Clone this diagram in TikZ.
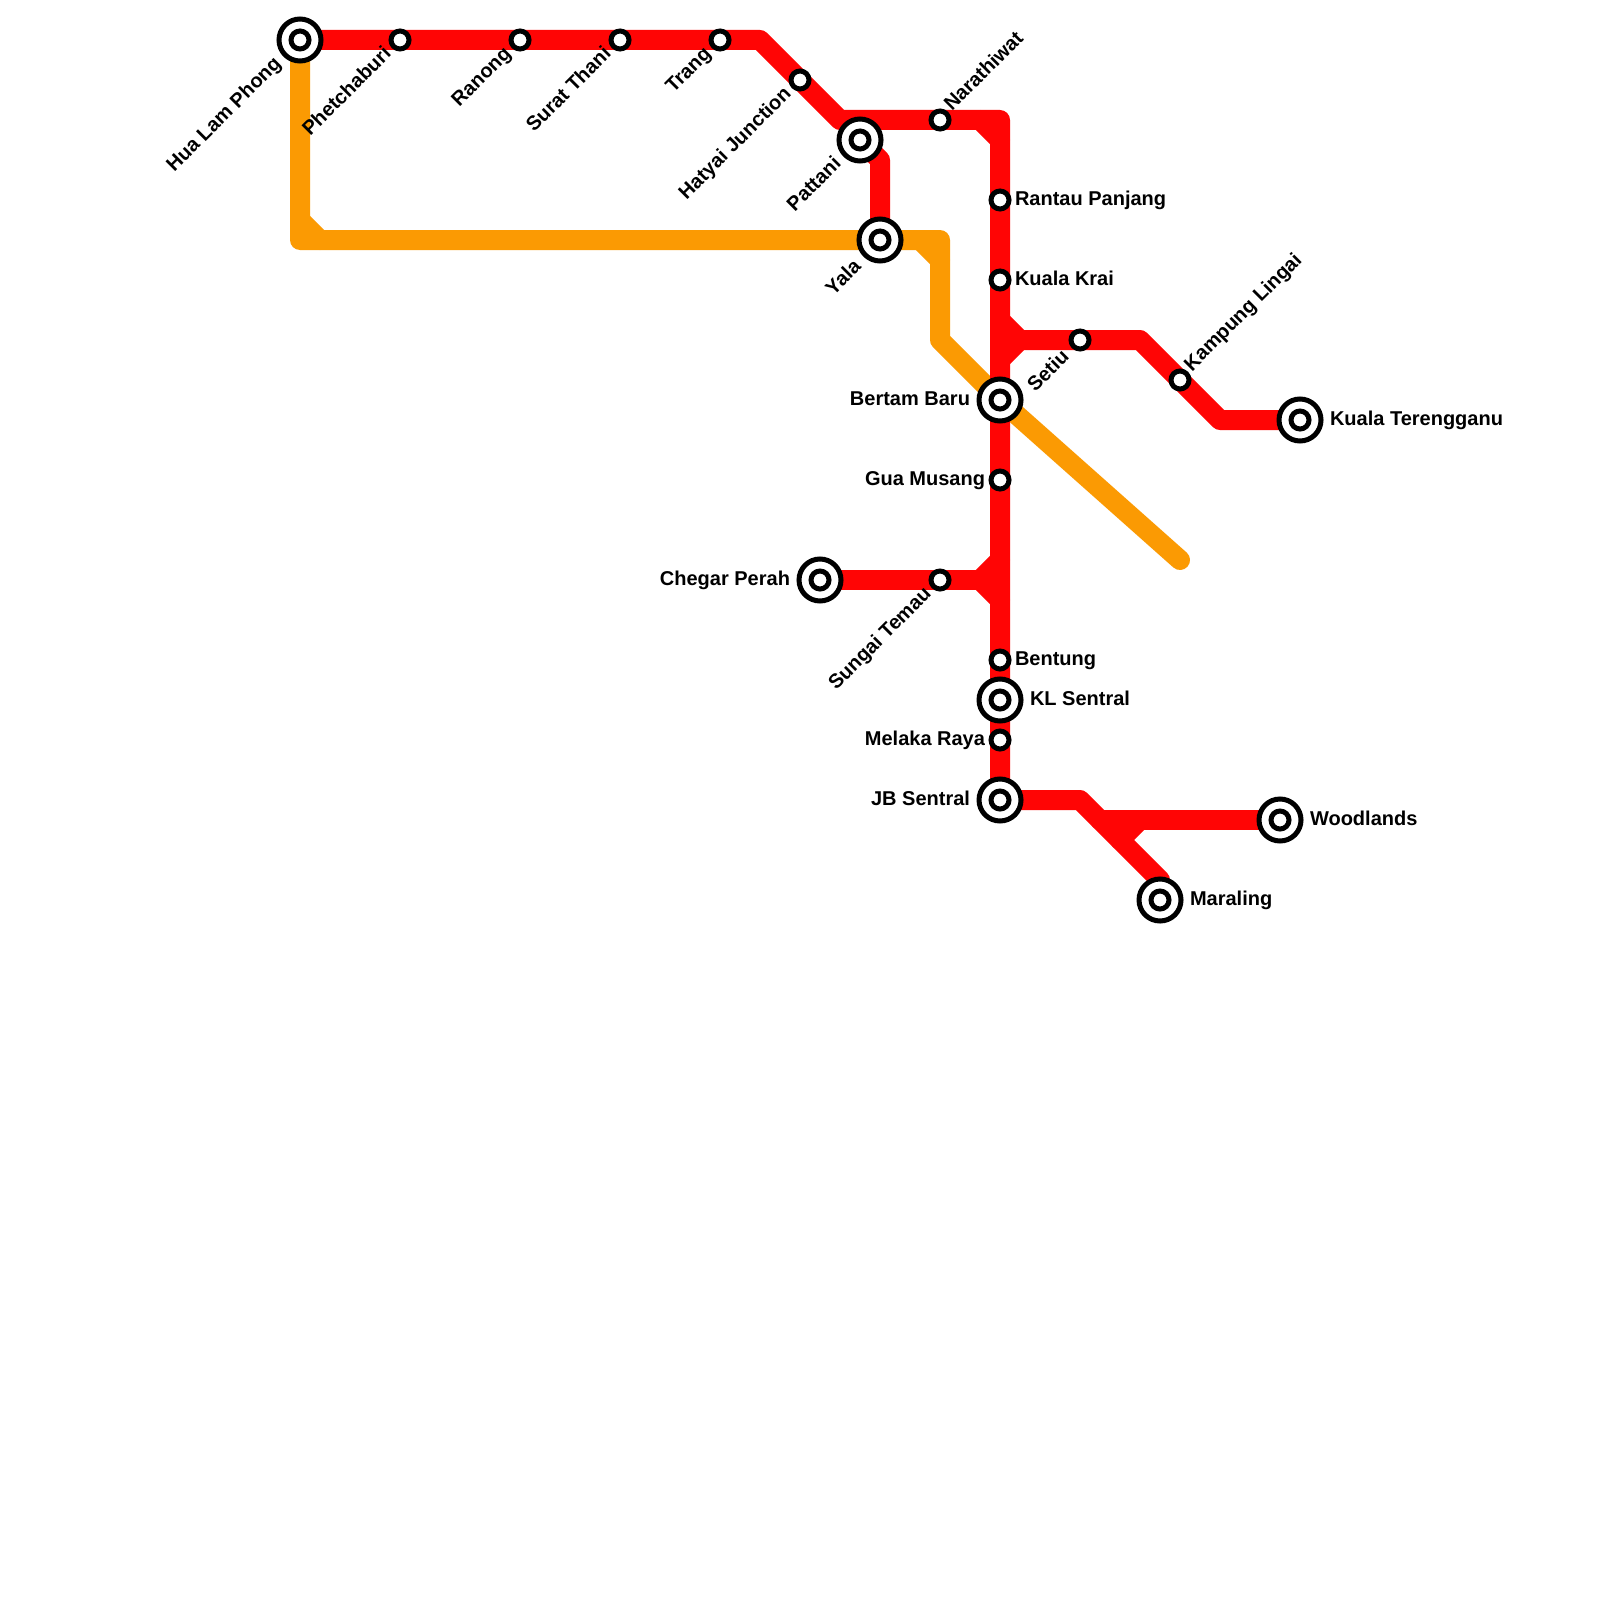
\documentclass[tikz,border=0pt]{standalone}
\usepackage{fontspec}
\setmainfont{Liberation Sans}
\usetikzlibrary{backgrounds}
\definecolor{linered}{HTML}{FF0505}
\definecolor{lineorange}{HTML}{FB9A03}
\tikzset{
  railline/.style={line width=20pt,line cap=round,line join=round},
  redline/.style={railline,draw=linered},
  orangeline/.style={railline,draw=lineorange},
  smallstn/.style={circle,draw=black,fill=white,line width=5pt,minimum size=18pt,inner sep=0pt},
  hubring/.style={circle,draw=black,fill=white,line width=5pt,minimum size=42pt,inner sep=0pt},
  stnlabel/.style={inner sep=0pt,outer sep=0pt,font=\fontsize{20}{24}\selectfont\bfseries,text=black},
  lblR/.style={stnlabel,anchor=base west},
  lblL/.style={stnlabel,anchor=base east},
  lblUR/.style={stnlabel,anchor=base west,rotate=45},
  lblDL/.style={stnlabel,anchor=base east,rotate=45}
}
\newcommand{\stnS}[3]{\node[smallstn] (#1) at (#2,#3) {};}
\newcommand{\stnH}[3]{\node[hubring] (#1) at (#2,#3) {}; \node[smallstn] (#1core) at (#2,#3) {};}
\begin{document}
\begin{tikzpicture}[x=1pt,y=-1pt]
\useasboundingbox (0,0) rectangle (1600,1600);
% stations
\stnH{hualam}{300}{40}
\stnS{phet}{400}{40}
\stnS{ranong}{520}{40}
\stnS{surat}{620}{40}
\stnS{trang}{720}{40}
\stnS{hatyai}{800}{80}
\stnH{pattani}{860}{140}
\stnS{nara}{940}{120}
\stnH{yala}{880}{240}
\stnS{rantau}{1000}{200}
\stnS{krai}{1000}{280}
\stnS{setiu}{1080}{340}
\stnS{lingai}{1180}{380}
\stnH{kterengganu}{1300}{420}
\stnH{bertam}{1000}{400}
\stnS{musang}{1000}{480}
\stnH{chegar}{820}{580}
\stnS{temau}{940}{580}
\stnS{bentung}{1000}{660}
\stnH{kl}{1000}{700}
\stnS{melaka}{1000}{740}
\stnH{jb}{1000}{800}
\stnH{woodlands}{1280}{820}
\stnH{maraling}{1160}{900}
% labels
\node[lblDL] (lhualam) at (282,65) {Hua Lam Phong};
\node[lblDL] (lphet) at (392,55) {Phetchaburi};
\node[lblDL] (lranong) at (512,55) {Ranong};
\node[lblDL] (lsurat) at (612,55) {Surat Thani};
\node[lblDL] (ltrang) at (712,55) {Trang};
\node[lblDL] (lhatyai) at (792,95) {Hatyai Junction};
\node[lblDL] (lpattani) at (842,165) {Pattani};
\node[lblDL] (lyala) at (862,268) {Yala};
\node[lblDL] (lsetiu) at (1070,358) {Setiu};
\node[lblDL] (ltemau) at (932,595) {Sungai Temau};
\node[lblUR] (lnara) at (952,112) {Narathiwat};
\node[lblUR] (llingai) at (1192,372) {Kampung Lingai};
\node[lblR] (lrantau) at (1015,205) {Rantau Panjang};
\node[lblR] (lkrai) at (1015,285) {Kuala Krai};
\node[lblR] (lkt) at (1330,425) {Kuala Terengganu};
\node[lblR] (lbentung) at (1015,665) {Bentung};
\node[lblR] (lkl) at (1030,705) {KL Sentral};
\node[lblR] (lwood) at (1310,825) {Woodlands};
\node[lblR] (lmaraling) at (1190,905) {Maraling};
\node[lblL] (lbertam) at (970,405) {Bertam Baru};
\node[lblL] (lmusang) at (985,485) {Gua Musang};
\node[lblL] (lchegar) at (790,585) {Chegar Perah};
\node[lblL] (lmelaka) at (985,745) {Melaka Raya};
\node[lblL] (ljb) at (970,805) {JB Sentral};
% bends and fillet ends
\coordinate (b1) at (760,40);
\coordinate (b2) at (840,120);
\coordinate (b3) at (1000,120);
\coordinate (b4) at (880,160);
\coordinate (b5) at (1140,340);
\coordinate (b6) at (1220,420);
\coordinate (b7) at (1080,800);
\coordinate (b8) at (1160,880);
\coordinate (b9) at (1100,820);
\coordinate (oa) at (300,240);
\coordinate (ob) at (940,240);
\coordinate (oc) at (940,340);
\coordinate (od) at (1180,560);
\coordinate (f1a) at (980,120);
\coordinate (f1b) at (1000,140);
\coordinate (f2a) at (1000,320);
\coordinate (f2b) at (1020,340);
\coordinate (f2c) at (1000,360);
\coordinate (f3a) at (980,580);
\coordinate (f3b) at (1000,560);
\coordinate (f3c) at (1000,600);
\coordinate (f4a) at (1120,840);
\coordinate (f4b) at (1140,820);
\coordinate (f5a) at (300,220);
\coordinate (f5b) at (320,240);
\coordinate (f6a) at (920,240);
\coordinate (f6b) at (940,260);
\begin{scope}[on background layer]
\fill[white] (0,0) rectangle (1600,1600);
% orange line
\draw[orangeline] (hualam.center) -- (oa) -- (yala.center) -- (ob) -- (oc) -- (bertam.center) -- (od);
\draw[orangeline] (f5a) -- (f5b);
\draw[orangeline] (f6a) -- (f6b);
% red lines
\draw[redline] (hualam.center) -- (phet.center) -- (ranong.center) -- (surat.center) -- (trang.center) -- (b1) -- (hatyai.center) -- (b2) -- (nara.center) -- (b3) -- (rantau.center) -- (krai.center) -- (bertam.center) -- (musang.center) -- (bentung.center) -- (kl.center) -- (melaka.center) -- (jb.center) -- (b7) -- (b8) -- (maraling.center);
\draw[redline] (pattani.center) -- (b4) -- (yala.center);
\draw[redline] (f2a) -- (f2b) -- (f2c);
\draw[redline] (f2b) -- (setiu.center) -- (b5) -- (lingai.center) -- (b6) -- (kterengganu.center);
\draw[redline] (chegar.center) -- (temau.center) -- (f3a);
\draw[redline] (f3b) -- (f3a) -- (f3c);
\draw[redline] (b9) -- (woodlands.center);
\draw[redline] (f4a) -- (f4b);
\draw[redline] (f1a) -- (f1b);
\end{scope}
\end{tikzpicture}
\end{document}
